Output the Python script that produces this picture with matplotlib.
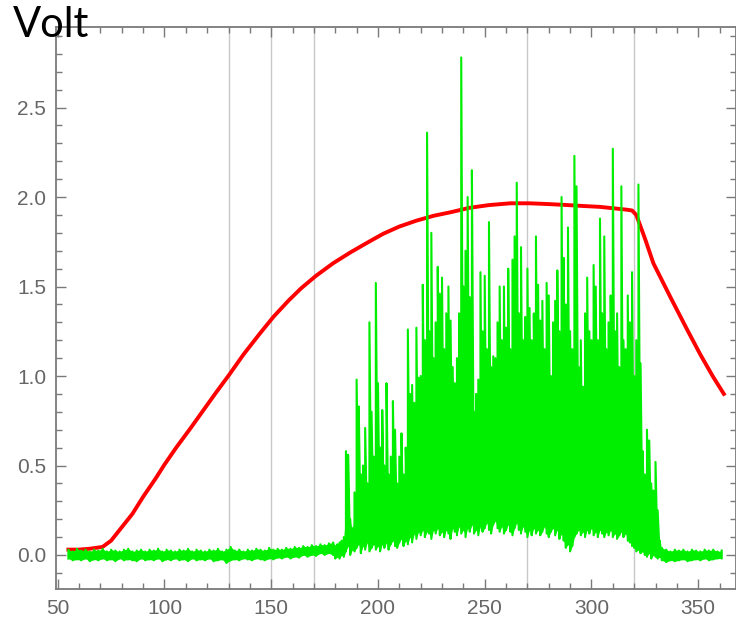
import numpy as np
import matplotlib
matplotlib.use("Agg")
import matplotlib.pyplot as plt
from matplotlib.ticker import MultipleLocator, FormatStrFormatter

# red trace: slow voltage ramp
red_x = [55, 60, 65, 71, 75, 79, 85, 90, 96, 100, 105.5, 112, 118, 124, 130.5, 137,
         144.6, 151, 158, 164, 171, 179, 187, 195, 202.5, 210, 218, 226, 234, 243,
         252, 262, 271, 281, 289, 296, 304, 312, 316, 319, 321, 325, 329, 337, 345,
         351, 357, 362]
red_y = [0.03, 0.03, 0.035, 0.045, 0.08, 0.14, 0.23, 0.325, 0.43, 0.505, 0.60, 0.705,
         0.805, 0.905, 1.01, 1.12, 1.236, 1.33, 1.42, 1.49, 1.56, 1.63, 1.69, 1.745,
         1.795, 1.835, 1.868, 1.895, 1.915, 1.94, 1.955, 1.965, 1.965, 1.96, 1.955,
         1.95, 1.945, 1.935, 1.93, 1.925, 1.90, 1.77, 1.63, 1.44, 1.255, 1.12, 0.995, 0.90]

# green trace: noisy signal, top / bottom of each sample plus the solid body
base_x = np.arange(55, 180, 2)
base_hi = [0.03, 0.02, 0.035, 0.025, 0.03, 0.02, 0.03, 0.025, 0.035, 0.02,
           0.03, 0.025, 0.02, 0.03, 0.035, 0.02, 0.025, 0.03, 0.02, 0.03,
           0.025, 0.035, 0.02, 0.03, 0.025, 0.02, 0.03, 0.025, 0.035, 0.02,
           0.03, 0.025, 0.02, 0.03, 0.025, 0.035, 0.02, 0.03, 0.045, 0.025,
           0.03, 0.02, 0.03, 0.025, 0.035, 0.03, 0.025, 0.04, 0.03, 0.035,
           0.03, 0.04, 0.035, 0.045, 0.04, 0.05, 0.045, 0.055, 0.05, 0.06,
           0.055, 0.065, 0.07]
base_lo = [-0.02, -0.03, -0.025, -0.03, -0.02, -0.035, -0.025, -0.03, -0.02, -0.03,
           -0.025, -0.035, -0.02, -0.03, -0.025, -0.03, -0.035, -0.02, -0.03, -0.025,
           -0.03, -0.02, -0.035, -0.025, -0.03, -0.02, -0.03, -0.025, -0.035, -0.02,
           -0.03, -0.025, -0.03, -0.02, -0.035, -0.03, -0.025, -0.045, -0.03, -0.025,
           -0.03, -0.02, -0.025, -0.03, -0.02, -0.025, -0.03, -0.02, -0.025, -0.015,
           -0.02, -0.01, -0.02, -0.01, -0.015, 0.0, -0.01, 0.0, -0.005, 0.01,
           0.0, 0.01, 0.0]

burst_x = np.arange(180, 333)
burst_hi = [0.05, 0.06, 0.07, 0.08, 0.10,
            0.58, 0.56, 0.20, 0.15, 0.35, 0.98, 0.83, 0.45, 0.50, 0.71, 0.40, 1.30, 0.80, 0.55, 1.52,
            0.96, 0.60, 0.81, 0.50, 0.96, 0.45, 0.55, 0.86, 0.70, 0.40, 0.55, 0.68, 0.45, 0.60, 1.26,
            0.90, 0.95, 0.85, 1.27, 0.99, 1.00, 1.51, 1.20, 2.36, 1.25, 1.80, 1.10, 1.30, 1.61, 1.46,
            1.55, 1.15, 1.35, 1.50, 1.31, 1.05, 0.96, 1.10, 1.35, 2.78, 1.50, 1.70, 2.00, 1.44, 2.15,
            0.80, 0.90, 0.98, 1.58, 1.25, 1.56, 1.15, 1.86, 1.05, 1.11, 1.10, 1.30, 1.50, 1.20, 1.50,
            1.27, 1.60, 1.15, 1.65, 1.78, 2.08, 1.35, 1.72, 1.20, 1.33, 1.60, 1.38, 1.20, 1.35, 1.78,
            1.51, 1.31, 1.42, 1.15, 1.52, 1.45, 1.00, 1.30, 1.42, 1.59, 1.25, 2.00, 1.66, 1.40, 1.83,
            1.25, 1.15, 2.23, 2.06, 1.05, 1.20, 0.94, 1.35, 1.55, 1.25, 1.20, 1.62, 1.50, 1.20, 1.88,
            1.35, 1.78, 1.15, 1.30, 1.45, 2.27, 1.25, 1.35, 1.05, 2.06, 1.20, 1.15, 1.45, 1.30, 1.58,
            1.00, 1.20, 2.07, 1.07, 0.58, 0.45, 0.70, 0.64, 0.40, 0.36, 0.52, 0.25, 0.08]
burst_body = [0.05, 0.06, 0.07, 0.08, 0.10,
              0.25, 0.28, 0.18, 0.14, 0.22, 0.30, 0.32, 0.26, 0.30, 0.34, 0.28, 0.36, 0.32, 0.30, 0.38,
              0.36, 0.33, 0.40, 0.35, 0.42, 0.36, 0.40, 0.45, 0.38, 0.32, 0.40, 0.44, 0.38, 0.45, 0.50,
              0.55, 0.60, 0.62, 0.68, 0.65, 0.64, 0.72, 0.68, 0.76, 0.70, 0.74, 0.70, 0.76, 0.78, 0.74,
              0.80, 0.75, 0.82, 0.85, 0.80, 0.72, 0.78, 0.82, 0.86, 0.90, 0.84, 0.88, 0.92, 0.86, 0.90,
              0.76, 0.74, 0.82, 0.88, 0.85, 0.90, 0.84, 0.92, 0.88, 0.82, 0.80, 0.86, 0.90, 0.84, 0.88,
              0.90, 0.94, 0.88, 0.92, 0.96, 0.98, 0.92, 0.95, 0.88, 0.90, 0.94, 0.90, 0.86, 0.92, 0.96,
              0.90, 0.88, 0.92, 0.86, 0.90, 0.94, 0.82, 0.88, 0.92, 0.96, 0.90, 0.94, 0.88, 0.84, 0.90,
              0.78, 0.82, 0.90, 0.94, 0.88, 0.84, 0.80, 0.88, 0.92, 0.86, 0.90, 0.94, 0.90, 0.86, 0.92,
              0.90, 0.94, 0.88, 0.84, 0.90, 0.94, 0.88, 0.86, 0.82, 0.90, 0.84, 0.80, 0.86, 0.82, 0.76,
              0.62, 0.60, 0.58, 0.52, 0.45, 0.40, 0.42, 0.38, 0.30, 0.28, 0.25, 0.12, 0.05]
burst_lo = [-0.02, -0.01, -0.02, 0.00, -0.01,
            0.02, 0.05, 0.00, 0.03, 0.02, 0.04, 0.06, 0.01, 0.05, 0.03, 0.07, 0.02, 0.04, 0.06, 0.03,
            0.05, 0.02, 0.06, 0.04, 0.07, 0.03, 0.06, 0.08, 0.05, 0.04, 0.07, 0.09, 0.05, 0.08, 0.06,
            0.10, 0.07, 0.12, 0.09, 0.13, 0.11, 0.14, 0.10, 0.13, 0.12, 0.09, 0.14, 0.12, 0.15, 0.11,
            0.13, 0.10, 0.14, 0.12, 0.09, 0.15, 0.13, 0.11, 0.16, 0.12, 0.14, 0.10, 0.15, 0.13, 0.17,
            0.12, 0.14, 0.11, 0.16, 0.13, 0.15, 0.18, 0.14, 0.12, 0.17, 0.19, 0.15, 0.13, 0.16, 0.12,
            0.14, 0.17, 0.13, 0.11, 0.15, 0.18, 0.14, 0.12, 0.16, 0.13, 0.10, 0.14, 0.11, 0.15, 0.12,
            0.14, 0.11, 0.13, 0.16, 0.12, 0.10, 0.13, 0.15, 0.11, 0.14, 0.09, 0.12, 0.08, 0.04, 0.06,
            0.02, 0.05, 0.10, 0.12, 0.14, 0.11, 0.13, 0.10, 0.14, 0.12, 0.15, 0.11, 0.13, 0.10, 0.14,
            0.12, 0.10, 0.13, 0.11, 0.14, 0.10, 0.12, 0.09, 0.11, 0.13, 0.10, 0.12, 0.08, 0.07, 0.05,
            0.04, 0.02, 0.03, 0.01, 0.02, 0.00, -0.01, 0.01, -0.02, 0.00, -0.01, -0.02, -0.01]

tail_x = np.arange(333, 363, 2)
tail_hi = [0.04, 0.03, 0.02, 0.03, 0.025, 0.03, 0.02, 0.03, 0.025, 0.02, 0.03, 0.025, 0.03, 0.02, 0.025]
tail_lo = [-0.03, -0.04, -0.03, -0.035, -0.03, -0.025, -0.035, -0.03, -0.025, -0.03, -0.02, -0.03,
           -0.025, -0.02, -0.02]

marker_lines = [130, 150, 170, 270, 320]

GREEN, RED, FRAME, LABEL = "#00ee00", "#ff0000", "#7a7a7a", "#666666"

fig = plt.figure(figsize=(7.36, 6.30), dpi=100)
ax = fig.add_axes([56 / 736, 1 - 589 / 630, 1 - 56 / 736, (589 - 27) / 630])

for xv in marker_lines:
    ax.axvline(xv, color="#c8c8c8", lw=1.0, zorder=1)

ax.plot(red_x, red_y, color=RED, lw=2.8, zorder=3)

gx = np.concatenate([base_x, burst_x, tail_x])
ghi = np.concatenate([base_hi, burst_hi, tail_hi])
glo = np.concatenate([base_lo, burst_lo, tail_lo])
gbody = np.concatenate([base_hi, burst_body, tail_hi])
ax.fill_between(gx, glo, gbody, color=GREEN, lw=0, zorder=4)
ax.plot(np.repeat(gx, 2), np.column_stack([glo, ghi]).ravel(), color=GREEN, lw=1.5, zorder=4)

ax.set_xlim(49.2, 367.7)
ax.set_ylim(-0.19, 2.95)
ax.xaxis.set_major_locator(MultipleLocator(50))
ax.xaxis.set_minor_locator(MultipleLocator(10))
ax.yaxis.set_major_locator(MultipleLocator(0.5))
ax.yaxis.set_minor_locator(MultipleLocator(0.1))
ax.yaxis.set_major_formatter(FormatStrFormatter("%.1f"))
ax.tick_params(which="both", direction="in", top=True, right=True, color=FRAME,
               labelcolor=LABEL, labelsize=15, pad=7, width=1.0)
ax.tick_params(which="major", length=7)
ax.tick_params(which="minor", length=4)
for lab in ax.get_xticklabels() + ax.get_yticklabels():
    lab.set_family("Liberation Sans")
for s in ax.spines.values():
    s.set_color(FRAME)
    s.set_linewidth(1.3)

fig.text(13 / 736, 1 - 37 / 630, "Volt", fontsize=30, family="Lato", color="black",
         va="baseline", ha="left", zorder=10)

fig.savefig("out.png", dpi=100)
